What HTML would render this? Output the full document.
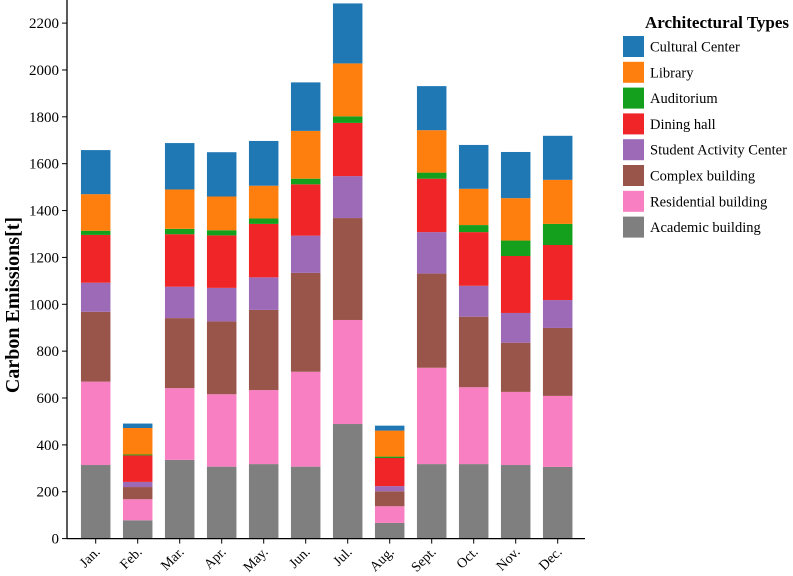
<!DOCTYPE html>
<html><head><meta charset="utf-8"><style>
body{margin:0;background:#fff;}
svg{display:block;font-family:"Liberation Serif",serif;}
</style></head><body>
<svg id="chart" width="793" height="576"></svg>
<script>
const months=["Jan.","Feb.","Mar.","Apr.","May.","Jun.","Jul.","Aug.","Sept.","Oct.","Nov.","Dec."];
const seriesNames=["Academic building","Residential building","Complex building","Student Activity Center","Dining hall","Auditorium","Library","Cultural Center"];
const colors=["#7f7f7f","#f87fc1","#9a554b","#9d6ab7","#ef2528","#149f1c","#ff7f0e","#1f77b4"];
const academic=[314,78,336,307,318,307,489,67,318,318,314,306];
const residential=[356,90,306,309,316,405,444,71,411,328,312,303];
const complex=[298,52,299,311,342,422,435,64,402,301,210,290];
const student=[124,22,134,143,139,159,179,22,177,132,127,119];
const dining=[204,113,224,224,228,219,227,120,228,229,243,235];
const auditorium=[18,4,23,22,23,24,28,6,26,30,66,90];
const library=[156,113,168,144,140,204,226,111,181,155,181,188];
const cultural=[188,19,198,189,191,207,256,21,188,187,197,188];
const series=[academic,residential,complex,student,dining,auditorium,library,cultural];
const yTicks=[0,200,400,600,800,1000,1200,1400,1600,1800,2000,2200];

const svg=document.getElementById('chart');
const NS="http://www.w3.org/2000/svg";
const X0=67,X1=585,Y0=538.6,YTOP=23.1;
const yScale=v=>Y0-(v/2200)*(Y0-YTOP);
const band=42,bw=29.5;
const xCenter=i=>95.7+i*band;
function el(t,a){const e=document.createElementNS(NS,t);for(const k in a)e.setAttribute(k,a[k]);svg.appendChild(e);return e;}

months.forEach((m,i)=>{
  let cum=0;
  series.forEach((s,j)=>{
    const y1=yScale(cum),y2=yScale(cum+s[i]);cum+=s[i];
    const r=el('rect',{x:xCenter(i)-bw/2,y:y2,width:bw,height:y1-y2,fill:colors[j]});
    
    
  });
  const tk=el('line',{x1:xCenter(i),x2:xCenter(i),y1:Y0,y2:Y0+5,stroke:'#000','stroke-width':1});
  
  
  const cx=xCenter(i)+5,cy=Y0+14;
  const t=el('text',{x:cx,y:cy,'text-anchor':'end','font-size':14,transform:`rotate(-45 ${cx} ${cy})`});
  t.textContent=m;
  
  
});
yTicks.forEach(v=>{
  const y=yScale(v);
  const tk=el('line',{x1:X0-5,x2:X0,y1:y,y2:y,stroke:'#000','stroke-width':1});
  
  
  const t=el('text',{x:X0-8,y:y+5,'text-anchor':'end','font-size':15});
  t.textContent=v;
  
  
});
const ax=el('line',{x1:X0,x2:X0,y1:0,y2:Y0,stroke:'#000','stroke-width':1.3});


const axx=el('line',{x1:X0,x2:X1,y1:Y0,y2:Y0,stroke:'#000','stroke-width':1.3});


const yl=el('text',{x:0,y:0,'text-anchor':'middle','font-size':20,'font-weight':'bold',transform:'translate(19 305) rotate(-90)'});
yl.textContent='Carbon Emissions[t]';



const lt=el('text',{x:645,y:28,'font-size':17,'font-weight':'bold'});
lt.textContent='Architectural Types';


for(let k=0;k<8;k++){
  const j=7-k,y=36+k*25.8;
  const r=el('rect',{x:623,y:y,width:21,height:21,fill:colors[j]});
  
  
  const t=el('text',{x:650,y:y+15.5,'font-size':14.5});
  t.textContent=seriesNames[j];
  
  
}
</script>
</body></html>
